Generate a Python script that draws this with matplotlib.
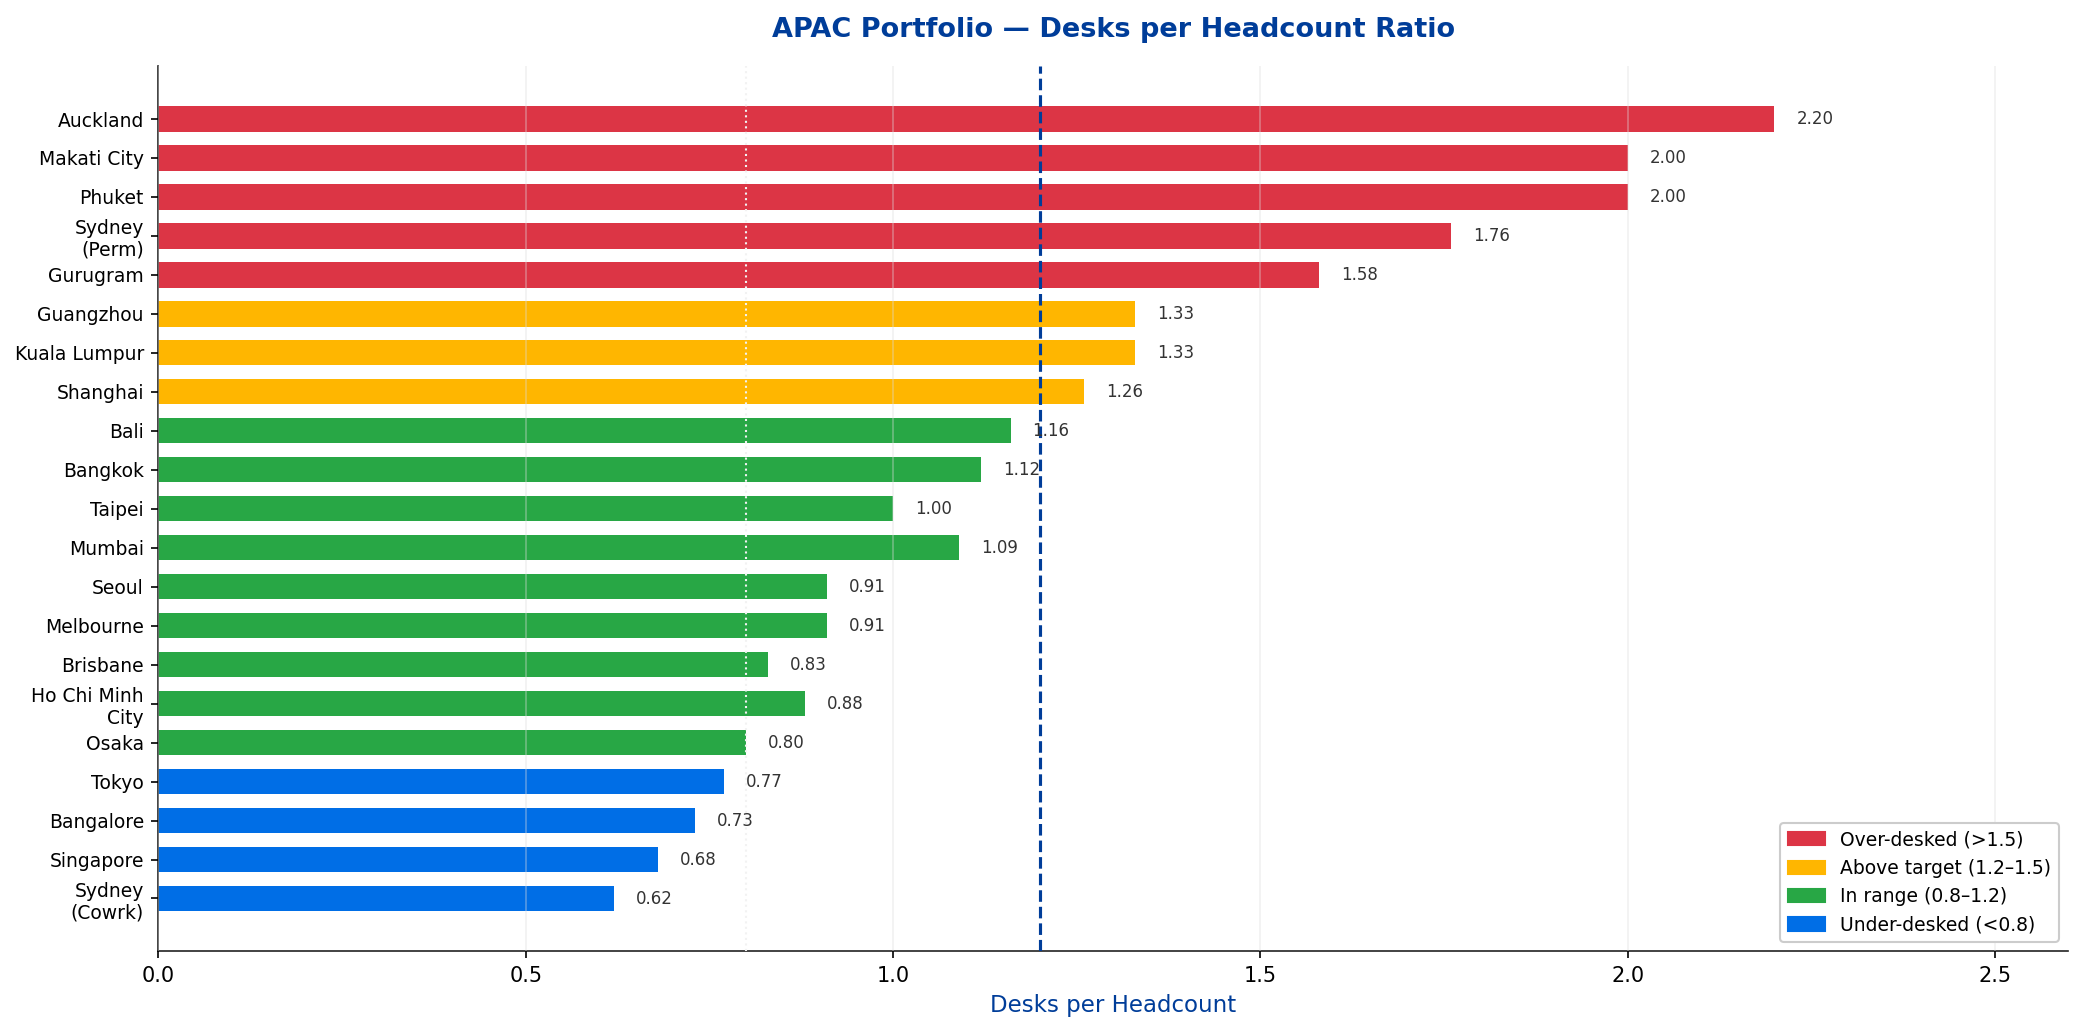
import numpy as np
import matplotlib.pyplot as plt
from matplotlib.patches import Patch


cities = ['Auckland', 'Makati City', 'Phuket', 'Sydney\n(Perm)', 'Gurugram',
          'Guangzhou', 'Kuala Lumpur', 'Shanghai', 'Bali', 'Bangkok', 'Taipei',
          'Mumbai', 'Seoul', 'Melbourne', 'Brisbane', 'Ho Chi Minh\nCity',
          'Osaka', 'Tokyo', 'Bangalore', 'Singapore', 'Sydney\n(Cowrk)']
ratios = [2.20, 2.00, 2.00, 1.76, 1.58, 1.33, 1.33, 1.26, 1.16, 1.12, 1.00,
          1.09, 0.91, 0.91, 0.83, 0.88, 0.80, 0.77, 0.73, 0.68, 0.62]

TARGET = 1.2
RED = '#dc3545'
AMBER = '#ffb600'
GREEN = '#28a745'
BLUE = '#006ee6'
NAVY = '#003d99'


def band_colour(v):
    if v > 1.5:
        return RED
    if v > 1.2:
        return AMBER
    if v >= 0.8:
        return GREEN
    return BLUE


colours = [band_colour(v) for v in ratios]
y = np.arange(len(cities))

fig, ax = plt.subplots(figsize=(13.9, 6.887), dpi=150)
ax.barh(y, ratios, height=0.65, color=colours, zorder=2)

for yi, v in zip(y, ratios):
    ax.text(v + 0.03, yi, f'{v:.2f}', va='center', ha='left', fontsize=8, color='#333333', zorder=4)

# reference lines: lower band edge and target
ax.axvline(0.8, color='#f2f2f2', linestyle=':', linewidth=1, zorder=3)
ax.axvline(TARGET, color=NAVY, linestyle='--', linewidth=1.5, zorder=3)

ax.set_yticks(y)
ax.set_yticklabels(cities, fontsize=9)
ax.invert_yaxis()
ax.set_xlim(0, 2.6)
ax.tick_params(axis='x', labelsize=10)

ax.grid(axis='x', color='#dddddd', alpha=0.4, linewidth=0.8)
ax.set_axisbelow(False)
ax.spines['top'].set_visible(False)
ax.spines['right'].set_visible(False)
ax.spines['left'].set_color('#222222')
ax.spines['bottom'].set_color('#222222')

ax.set_xlabel('Desks per Headcount', fontsize=11, color=NAVY)
ax.set_title('APAC Portfolio — Desks per Headcount Ratio', fontsize=13,
             fontweight='bold', color=NAVY, pad=14)

handles = [Patch(color=RED, label='Over-desked (>1.5)'),
           Patch(color=AMBER, label='Above target (1.2–1.5)'),
           Patch(color=GREEN, label='In range (0.8–1.2)'),
           Patch(color=BLUE, label='Under-desked (<0.8)')]
ax.legend(handles=handles, loc='lower right', fontsize=9, framealpha=1)

fig.subplots_adjust(left=0.076, right=0.992, top=0.936, bottom=0.079)
fig.savefig('out.png', dpi=150)
